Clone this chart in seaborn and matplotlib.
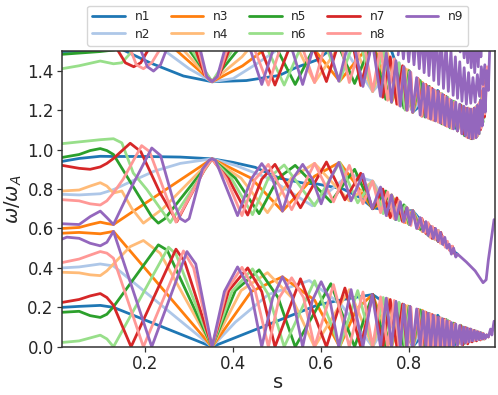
import matplotlib
matplotlib.use('Agg')
import matplotlib.pyplot as plt
import pandas as pd
import seaborn as sns

modes = ['n1', 'n2', 'n3', 'n4', 'n5', 'n6', 'n7', 'n8', 'n9']
mode_colors = ['#1f77b4', '#aec7e8', '#ff7f0e', '#ffbb78', '#2ca02c', '#98df8a', '#d62728', '#ff9896', '#9467bd']
x_ticks = [0.2, 0.4, 0.6, 0.8]
y_ticks = [0.0, 0.2, 0.4, 0.6, 0.8, 1.0, 1.2, 1.4]

# (s, omega/omega_A), lowest gap-bounded band first
n1_low = [(.011,.2),(.05,.205),(.098,.21),(.128,.2),(.352,0),(.592,.212),(.65,.24),(.717,.265),(.76,.2),(.79,.09),(.808,0),(.83,.06),(.865,.16),(.91,0)]
n2_low = [(.011,.4),(.05,.405),(.098,.42),(.128,.41),(.352,0),(.405,.125),(.48,.265),(.573,.336),(.645,.215),(.717,0),(.777,.225),(.808,0),(.843,.17),(.866,0)]
n3_low = [(.011,.576),(.05,.58),(.098,.573),(.128,.585),(.352,0),(.441,.28),(.512,.355),(.585,.237),(.642,0),(.68,.19),(.717,.265),(.76,0),(.791,.21),(.808,0),(.83,.185),(.849,0),(.866,.15),(.881,0)]
n4_low = [(.011,.378),(.05,.375),(.075,.365),(.098,.361),(.113,.385),(.128,.42),(.166,.508),(.196,.539),(.234,.475),(.352,0),(.418,.285),(.478,.376),(.533,.25),(.585,0),(.664,.29),(.717,0),(.751,.245),(.777,0),(.797,.208),(.808,0),(.828,.185),(.843,0),(.853,.163),(.866,0)]
n5_low = [(.011,.175),(.05,.18),(.075,.158),(.098,.149),(.113,.165),(.128,.203),(.23,.517),(.25,.49),(.352,0),(.405,.285),(.459,.39),(.502,.25),(.541,0),(.622,.32),(.676,0),(.717,.265),(.747,0),(.769,.23),(.788,0),(.8,.205),(.808,0),(.825,.187),(.836,0),(.846,.168),(.856,0),(.866,.15),(.875,0),(.884,.138),(.893,0),(.901,.12),(.91,.005),(.918,.107),(.926,.018),(.934,.09),(.941,.028),(.948,.082),(.955,.035),(.962,.072),(.968,.04)]
n6_low = [(.011,.022),(.05,.03),(.075,.045),(.098,.059),(.113,.04),(.128,0),(.253,.505),(.27,.47),(.352,0),(.397,.28),(.444,.395),(.48,.265),(.516,0),(.585,.335),(.642,0),(.683,.285),(.717,0),(.741,.25),(.76,0),(.777,.225),(.791,0),(.801,.205),(.808,0),(.822,.188),(.83,0),(.84,.173),(.849,0),(.858,.158),(.866,0),(.874,.145),(.881,0),(.888,.135),(.895,0),(.903,.118),(.91,.005),(.916,.11),(.922,.012),(.929,.097),(.936,.025),(.941,.088),(.947,.03),(.953,.08),(.959,.037),(.965,.07),(.97,.04)]
n7_low = [(.011,.225),(.05,.24),(.075,.258),(.098,.27),(.113,.25),(.128,.21),(.168,0),(.27,.495),(.29,.43),(.352,0),(.39,.285),(.433,.4),(.465,.28),(.495,0),(.553,.345),(.612,0),(.654,.298),(.69,0),(.717,.265),(.74,0),(.757,.24),(.772,0),(.785,.217),(.795,0),(.803,.202),(.808,0),(.82,.19),(.829,0),(.838,.175),(.845,0),(.852,.163),(.858,0),(.866,.15),(.872,0),(.879,.14),(.885,0),(.892,.128),(.898,0),(.904,.117),(.91,.005),(.917,.107),(.922,.01),(.928,.097),(.933,.015),(.938,.09),(.943,.025),(.948,.082),(.953,.03),(.958,.075),(.962,.035),(.967,.068),(.971,.04),(.976,.06),(.98,.05)]
n8_low = [(.011,.427),(.05,.445),(.075,.465),(.098,.483),(.113,.475),(.128,.449),(.196,0),(.287,.486),(.31,.4),(.352,0),(.385,.285),(.42,.403),(.45,.285),(.48,0),(.505,.25),(.533,.35),(.56,.25),(.585,0),(.628,.315),(.664,0),(.695,.278),(.717,0),(.735,.253),(.751,0),(.766,.235),(.777,0),(.788,.215),(.797,0),(.804,.2),(.808,0),(.819,.19),(.828,0),(.836,.178),(.843,0),(.848,.167),(.853,0),(.859,.158),(.866,0),(.871,.147),(.877,0),(.882,.137),(.887,0),(.892,.127),(.898,0),(.904,.115),(.91,.005),(.915,.108),(.919,.012),(.925,.098),(.93,.02),(.934,.09),(.938,.025),(.943,.085),(.947,.03),(.951,.08),(.955,.035),(.96,.073),(.964,.037),(.968,.068),(.972,.04),(.976,.06),(.98,.05)]
n9_low = [(.011,.546),(.022,.556),(.05,.55),(.075,.525),(.098,.512),(.113,.53),(.128,.585),(.215,0),(.295,.483),(.315,.42),(.352,0),(.38,.28),(.41,.405),(.44,.285),(.465,0),(.49,.25),(.512,.355),(.535,.25),(.558,0),(.58,.235),(.6,.33),(.62,.235),(.64,0),(.668,.29),(.695,0),(.716,.265),(.735,0),(.748,.247),(.76,0),(.77,.23),(.78,0),(.788,.215),(.795,0),(.802,.205),(.808,0),(.817,.192),(.825,0),(.832,.18),(.838,0),(.843,.17),(.849,0),(.855,.16),(.86,0),(.866,.15),(.871,0),(.876,.142),(.881,0),(.886,.132),(.891,0),(.896,.123),(.901,.005),(.906,.115),(.91,.01),(.915,.108),(.92,.012),(.924,.1),(.928,.02),(.932,.095),(.936,.025),(.94,.09),(.944,.03),(.948,.082),(.952,.035),(.955,.077),(.959,.037),(.962,.072),(.966,.04),(.969,.066),(.973,.042),(.976,.06),(.98,.05),(.985,.09),(.988,.06),(.993,.13)]

n1_mid = [(.011,.94),(.05,.955),(.098,.966),(.128,.965),(.2,.965),(.28,.962),(.352,.953),(.4,.935),(.45,.91),(.505,.855),(.56,.83),(.592,.825),(.65,.8),(.69,.755),(.717,.705),(.76,.69),(.808,.69),(.865,.54),(.91,.47)]
n2_mid = [(.011,.773),(.05,.77),(.098,.776),(.128,.797),(.17,.84),(.22,.89),(.28,.93),(.352,.953),(.405,.92),(.48,.855),(.58,.715),(.664,.875),(.717,.84),(.777,.64),(.808,.69),(.843,.565),(.866,.59)]
n3_mid = [(.011,.6),(.05,.605),(.075,.62),(.098,.632),(.113,.625),(.128,.62),(.234,.778),(.352,.953),(.441,.855),(.512,.688),(.585,.865),(.642,.935),(.68,.82),(.717,.7),(.76,.77),(.791,.63),(.808,.69),(.83,.585),(.849,.61),(.866,.535),(.881,.54)]
n4_mid = [(.011,.79),(.05,.795),(.075,.815),(.098,.832),(.113,.815),(.128,.78),(.147,.79),(.17,.7),(.196,.627),(.24,.7),(.352,.953),(.418,.855),(.478,.68),(.533,.858),(.585,.93),(.664,.74),(.717,.84),(.751,.665),(.777,.74),(.797,.625),(.808,.69),(.828,.59),(.843,.62),(.853,.55),(.866,.59)]
n5_mid = [(.011,.96),(.05,.975),(.075,.995),(.098,1.005),(.113,.995),(.128,.975),(.177,.797),(.215,.66),(.23,.627),(.245,.65),(.352,.953),(.405,.855),(.459,.675),(.502,.855),(.541,.92),(.622,.735),(.676,.9),(.717,.7),(.747,.79),(.769,.645),(.788,.72),(.8,.62),(.808,.69),(.825,.595),(.836,.63),(.846,.56),(.856,.6),(.866,.535),(.875,.56)]
n6_mid = [(.011,1.03),(.098,1.05),(.128,1.055),(.147,1.034),(.173,.881),(.204,.797),(.257,.63),(.352,.953),(.397,.85),(.444,.67),(.48,.855),(.516,.922),(.585,.715),(.642,.935),(.683,.73),(.717,.84),(.741,.675),(.76,.77),(.777,.64),(.791,.715),(.801,.62),(.808,.69),(.822,.6),(.83,.64),(.84,.57),(.849,.61),(.858,.545),(.866,.59),(.874,.525),(.881,.55)]
n7_mid = [(.011,.92),(.05,.905),(.075,.9),(.098,.912),(.113,.93),(.128,.955),(.166,1.032),(.19,.99),(.234,.78),(.272,.635),(.335,.9),(.352,.953),(.37,.9),(.39,.85),(.433,.668),(.465,.85),(.495,.925),(.553,.705),(.612,.937),(.654,.745),(.69,.88),(.717,.7),(.74,.8),(.757,.655),(.772,.755),(.785,.635),(.795,.705),(.803,.62),(.808,.69),(.82,.6),(.829,.65),(.838,.575),(.845,.62),(.852,.55),(.858,.6),(.866,.535),(.872,.58),(.879,.52),(.885,.53),(.892,.49),(.898,.51),(.904,.47)]
n8_mid = [(.011,.746),(.05,.74),(.075,.725),(.098,.719),(.113,.74),(.128,.78),(.15,.85),(.192,1.02),(.21,.99),(.27,.632),(.335,.9),(.352,.953),(.37,.9),(.385,.85),(.42,.665),(.45,.85),(.48,.925),(.533,.695),(.585,.93),(.628,.735),(.664,.92),(.695,.725),(.717,.84),(.735,.68),(.751,.785),(.766,.65),(.777,.74),(.788,.63),(.797,.7),(.804,.615),(.808,.69),(.819,.6),(.828,.65),(.836,.58),(.843,.63),(.848,.555),(.853,.61),(.859,.545),(.866,.59),(.871,.525),(.877,.56),(.882,.505),(.887,.535),(.892,.49),(.898,.51)]
n9_mid = [(.011,.624),(.05,.62),(.075,.66),(.098,.688),(.113,.655),(.128,.62),(.166,.797),(.215,1.008),(.235,.97),(.264,.74),(.28,.65),(.291,.635),(.3,.65),(.33,.9),(.345,.945),(.352,.953),(.36,.945),(.375,.86),(.41,.665),(.441,.85),(.465,.929),(.49,.85),(.512,.688),(.535,.85),(.558,.925),(.58,.85),(.6,.725),(.62,.85),(.64,.935),(.668,.74),(.695,.875),(.716,.7),(.735,.81),(.748,.665),(.76,.77),(.77,.645),(.78,.735),(.788,.635),(.795,.705),(.802,.62),(.808,.69),(.817,.6),(.825,.655),(.832,.585),(.838,.635),(.843,.565),(.849,.61),(.855,.55),(.86,.6),(.866,.535),(.871,.58),(.876,.52),(.881,.555),(.886,.5),(.891,.52),(.896,.47),(.901,.5),(.906,.455),(.91,.47),(.93,.43),(.95,.385),(.968,.325),(.975,.34),(.98,.44),(.993,.645)]

n1_high = [(.011,1.497),(.05,1.498),(.09,1.51),(.12,1.55),(.15,1.505),(.211,1.44),(.287,1.373),(.352,1.344),(.43,1.35),(.505,1.376),(.542,1.415),(.59,1.454),(.614,1.495),(.717,1.56),(.76,1.5),(.808,1.19),(.865,1.3),(.91,1.095)]
n2_high = [(.242,1.505),(.3,1.41),(.352,1.344),(.4,1.36),(.45,1.43),(.49,1.49),(.573,1.62),(.65,1.52),(.717,1.295),(.777,1.44),(.808,1.19),(.843,1.32),(.866,1.145)]
n3_high = [(.27,1.505),(.352,1.344),(.421,1.424),(.467,1.5),(.512,1.62),(.58,1.52),(.642,1.347),(.717,1.55),(.76,1.24),(.791,1.41),(.808,1.19),(.83,1.34),(.849,1.155),(.866,1.295),(.881,1.125)]
n4_high = [(.287,1.505),(.352,1.344),(.42,1.47),(.478,1.62),(.55,1.5),(.585,1.34),(.664,1.6),(.717,1.295),(.751,1.49),(.777,1.225),(.797,1.405),(.808,1.19),(.828,1.34),(.843,1.16),(.853,1.305),(.866,1.14)]
n5_high = [(.011,1.483),(.098,1.497),(.13,1.505),(.2,1.7),(.3,1.505),(.352,1.344),(.405,1.49),(.459,1.62),(.502,1.5),(.541,1.33),(.58,1.5),(.622,1.62),(.676,1.335),(.717,1.55),(.747,1.255),(.769,1.45),(.788,1.21),(.8,1.4),(.808,1.19),(.825,1.35),(.836,1.165),(.846,1.32),(.856,1.15),(.866,1.295),(.875,1.13),(.884,1.27),(.893,1.11),(.901,1.245),(.91,1.095),(.918,1.225),(.926,1.07),(.934,1.21),(.941,1.055),(.948,1.21),(.955,1.07),(.962,1.25),(.968,1.14)]
n6_high = [(.011,1.41),(.05,1.425),(.098,1.449),(.128,1.435),(.147,1.44),(.175,1.51),(.24,1.7),(.306,1.505),(.352,1.344),(.397,1.5),(.444,1.62),(.48,1.5),(.516,1.327),(.55,1.5),(.585,1.62),(.615,1.5),(.642,1.347),(.683,1.6),(.717,1.295),(.741,1.51),(.76,1.24),(.777,1.44),(.791,1.2),(.801,1.395),(.808,1.19),(.822,1.355),(.83,1.17),(.84,1.325),(.849,1.155),(.858,1.3),(.866,1.14),(.874,1.285),(.881,1.125),(.888,1.265),(.895,1.11),(.903,1.245),(.91,1.095),(.916,1.228),(.922,1.08),(.929,1.21),(.936,1.06),(.941,1.205),(.947,1.056),(.953,1.22),(.959,1.08),(.965,1.28),(.97,1.16)]
n7_high = [(.136,1.51),(.155,1.44),(.174,1.42),(.19,1.44),(.208,1.51),(.26,1.7),(.314,1.51),(.335,1.38),(.352,1.344),(.369,1.38),(.39,1.5),(.433,1.62),(.465,1.5),(.495,1.327),(.525,1.5),(.553,1.62),(.585,1.5),(.612,1.345),(.634,1.5),(.654,1.62),(.675,1.5),(.69,1.325),(.717,1.55),(.74,1.265),(.757,1.47),(.772,1.23),(.785,1.425),(.795,1.2),(.803,1.39),(.808,1.19),(.82,1.36),(.829,1.17),(.838,1.33),(.845,1.16),(.852,1.31),(.858,1.148),(.866,1.295),(.872,1.135),(.879,1.275),(.885,1.12),(.892,1.255),(.898,1.108),(.904,1.24),(.91,1.095),(.917,1.225),(.922,1.08),(.928,1.21),(.933,1.062),(.938,1.205),(.943,1.055),(.948,1.21),(.953,1.065),(.958,1.23),(.962,1.1),(.967,1.3),(.971,1.165),(.975,1.4)]
n8_high = [(.166,1.51),(.18,1.43),(.196,1.41),(.215,1.44),(.234,1.51),(.28,1.7),(.321,1.51),(.337,1.375),(.352,1.344),(.367,1.375),(.385,1.5),(.42,1.62),(.45,1.5),(.48,1.327),(.505,1.5),(.533,1.62),(.56,1.5),(.585,1.34),(.605,1.5),(.628,1.62),(.648,1.5),(.664,1.34),(.695,1.57),(.717,1.295),(.735,1.52),(.751,1.25),(.766,1.46),(.777,1.225),(.788,1.42),(.797,1.2),(.804,1.39),(.808,1.19),(.819,1.36),(.828,1.17),(.836,1.33),(.843,1.16),(.848,1.315),(.853,1.15),(.859,1.3),(.866,1.14),(.871,1.285),(.877,1.13),(.882,1.27),(.887,1.118),(.892,1.255),(.898,1.107),(.904,1.24),(.91,1.095),(.915,1.23),(.919,1.082),(.925,1.215),(.93,1.065),(.934,1.21),(.938,1.057),(.943,1.205),(.947,1.058),(.951,1.215),(.955,1.07),(.96,1.24),(.964,1.11),(.968,1.33),(.972,1.18),(.977,1.42)]
n9_high = [(.189,1.51),(.205,1.42),(.219,1.398),(.235,1.43),(.249,1.51),(.29,1.7),(.325,1.51),(.34,1.37),(.352,1.344),(.364,1.37),(.38,1.5),(.41,1.62),(.44,1.5),(.465,1.33),(.49,1.5),(.512,1.62),(.535,1.5),(.558,1.33),(.58,1.5),(.6,1.62),(.62,1.5),(.64,1.347),(.668,1.6),(.695,1.32),(.716,1.55),(.735,1.27),(.748,1.49),(.76,1.24),(.77,1.45),(.78,1.22),(.788,1.42),(.795,1.2),(.802,1.395),(.808,1.19),(.817,1.365),(.825,1.175),(.832,1.335),(.838,1.165),(.843,1.32),(.849,1.155),(.855,1.305),(.86,1.145),(.866,1.295),(.871,1.135),(.876,1.28),(.881,1.125),(.886,1.265),(.891,1.115),(.896,1.25),(.901,1.105),(.906,1.24),(.91,1.095),(.915,1.23),(.92,1.08),(.924,1.22),(.928,1.07),(.932,1.21),(.936,1.06),(.94,1.205),(.944,1.055),(.948,1.21),(.952,1.06),(.955,1.225),(.959,1.08),(.962,1.25),(.966,1.12),(.969,1.31),(.973,1.19),(.976,1.4),(.98,1.3),(.983,1.505)]

# the two narrow continua above the first white gap near the right edge
n9_gap2 = [(.775,1.48),(.781,1.6),(.787,1.46),(.793,1.6),(.799,1.445),(.805,1.6),(.811,1.43),(.817,1.6),(.823,1.41),(.829,1.6),(.834,1.39),(.84,1.6),(.845,1.375),(.851,1.6),(.856,1.35),(.862,1.6),(.867,1.33),(.873,1.57),(.878,1.31),(.884,1.54),(.889,1.295),(.895,1.5),(.9,1.275),(.905,1.47),(.91,1.26),(.915,1.445),(.92,1.245),(.925,1.415),(.93,1.23),(.935,1.39),(.94,1.235),(.945,1.365),(.95,1.24),(.955,1.38),(.96,1.27),(.964,1.42),(.968,1.33),(.972,1.43)]
n9_gap3 = [(.893,1.6),(.898,1.53),(.902,1.6),(.907,1.515),(.911,1.6),(.916,1.495),(.92,1.6),(.925,1.465),(.929,1.6),(.933,1.44),(.937,1.6),(.941,1.415),(.945,1.6),(.949,1.39),(.953,1.6),(.957,1.42),(.96,1.6),(.963,1.47),(.966,1.6)]

curves = [
    ('n1', 'low', n1_low), ('n1', 'mid', n1_mid), ('n1', 'high', n1_high),
    ('n2', 'low', n2_low), ('n2', 'mid', n2_mid), ('n2', 'high', n2_high),
    ('n3', 'low', n3_low), ('n3', 'mid', n3_mid), ('n3', 'high', n3_high),
    ('n4', 'low', n4_low), ('n4', 'mid', n4_mid), ('n4', 'high', n4_high),
    ('n5', 'low', n5_low), ('n5', 'mid', n5_mid), ('n5', 'high', n5_high),
    ('n6', 'low', n6_low), ('n6', 'mid', n6_mid), ('n6', 'high', n6_high),
    ('n7', 'low', n7_low), ('n7', 'mid', n7_mid), ('n7', 'high', n7_high),
    ('n8', 'low', n8_low), ('n8', 'mid', n8_mid), ('n8', 'high', n8_high),
    ('n9', 'low', n9_low), ('n9', 'mid', n9_mid), ('n9', 'high', n9_high),
    ('n9', 'gap2', n9_gap2), ('n9', 'gap3', n9_gap3),
]

rows = []
for mode, band, points in curves:
    for s, w in points:
        rows.append({'mode': mode, 'band': band, 's': s, 'w': w})
df = pd.DataFrame(rows)

sns.set_style('ticks')
plt.rcParams['font.family'] = ['DejaVu Sans']

fig = plt.figure(figsize=(4.98, 3.95), dpi=100)
ax = fig.add_axes([0.1245, 0.122, 0.8685, 0.749])

sns.lineplot(data=df, x='s', y='w', hue='mode', hue_order=modes, palette=mode_colors,
             units='band', estimator=None, sort=False, linewidth=2.0, ax=ax)

ax.set_xlim(0.011, 0.994)
ax.set_ylim(0, 1.5)
ax.set_xticks(x_ticks)
ax.set_yticks(y_ticks)
ax.tick_params(labelsize=12, length=3.5, width=0.9, color='#333333', pad=2.5)
ax.set_xlabel('s', fontsize=14, labelpad=0)
ax.set_ylabel(r'$\omega/\omega_A$', fontsize=14, labelpad=2)
for spine in ax.spines.values():
    spine.set_visible(True)
    spine.set_linewidth(1.1)
    spine.set_color('#333333')

sns.move_legend(ax, 'lower center', bbox_to_anchor=(0.499, 1.0), ncol=5, title=None,
                frameon=True, fontsize=8.7, columnspacing=1.7, handlelength=2.7,
                labelspacing=0.35, borderaxespad=0.45)

fig.savefig('out.png', dpi=100)
plt.close(fig)
